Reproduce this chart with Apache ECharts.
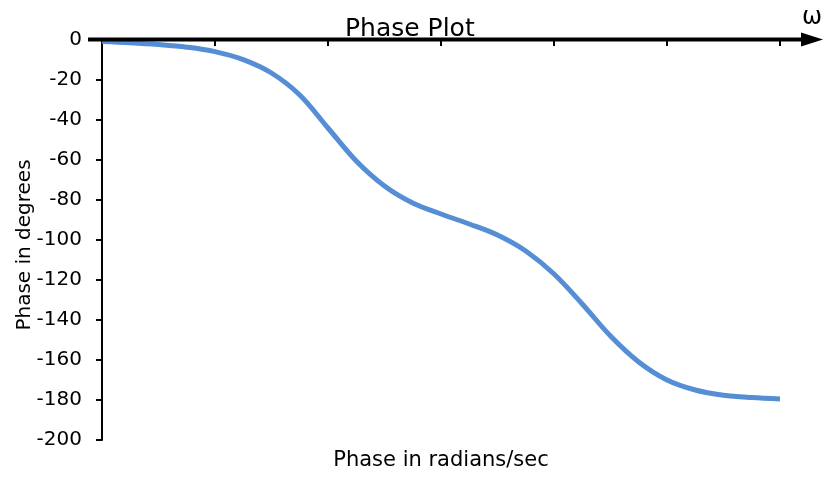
<!DOCTYPE html>
<html>
<head>
<meta charset="utf-8">
<script src="https://cdn.jsdelivr.net/npm/echarts@6/dist/echarts.min.js"></script>
<style>
  html, body { margin: 0; padding: 0; background: #fff; }
  #chart { width: 829px; height: 479px; }
</style>
</head>
<body>
<div id="chart"></div>
<script>
// frequency position along the axis (one unit per tick)
const omega = [0, 0.25, 0.5, 0.75, 1, 1.25, 1.5, 1.75, 2, 2.25, 2.5, 2.75, 3,
               3.25, 3.5, 3.75, 4, 4.25, 4.5, 4.75, 5, 5.25, 5.5, 5.75, 6];
// phase in degrees
const phase = [-0.8, -1.4, -2.3, -3.6, -5.8, -9.8, -16.5, -27.5, -44, -60.5, -73, -81.5, -87,
               -92, -97.5, -105.5, -117, -132, -148, -161, -170, -175, -177.6, -178.8, -179.5];
// axis ranges
const xMin = 0, xMax = 6, xStep = 1;
const yMin = -200, yMax = 0, yStep = 20;

const font = 'DejaVu Sans';
const chart = echarts.init(document.getElementById('chart'));

chart.setOption({
  animation: false,
  title: {
    text: 'Phase Plot',
    left: 340,
    top: 12,
    textStyle: { fontFamily: font, fontSize: 25, fontWeight: 'normal', color: '#000' }
  },
  grid: { left: 102, right: 49, top: 40, bottom: 39 },
  xAxis: {
    type: 'value',
    position: 'top',
    min: xMin, max: xMax, interval: xStep,
    axisLine: { show: false },
    axisTick: { show: true, inside: true, length: 6, lineStyle: { color: '#000', width: 2 } },
    axisLabel: { show: false },
    splitLine: { show: false }
  },
  yAxis: {
    type: 'value',
    min: yMin, max: yMax, interval: yStep,
    axisLine: { show: true, onZero: false, lineStyle: { color: '#000', width: 2 } },
    axisTick: { show: true, length: 6, lineStyle: { color: '#000', width: 2 } },
    axisLabel: { fontFamily: font, fontSize: 20, color: '#000', margin: 20 },
    splitLine: { show: false }
  },
  series: [{
    type: 'line',
    data: omega.map((w, i) => [w, phase[i]]),
    smooth: 0.35,
    symbol: 'none',
    lineStyle: { color: '#558ed5', width: 5 }
  }]
});

// omega axis drawn as a long arrow through y = 0
const a = chart.convertToPixel({ gridIndex: 0 }, [xMin, 0]);
const b = chart.convertToPixel({ gridIndex: 0 }, [xMax, 0]);
const c = chart.convertToPixel({ gridIndex: 0 }, [xMin, (yMin + yMax) / 2]);
const y0 = a[1] - 0.5;
chart.setOption({
  graphic: [
    { type: 'line', z: 10, shape: { x1: a[0] - 14, y1: y0, x2: b[0] + 24, y2: y0 },
      style: { stroke: '#000', lineWidth: 4 } },
    { type: 'polygon', z: 10,
      shape: { points: [[b[0] + 21, y0 - 7], [b[0] + 43, y0], [b[0] + 21, y0 + 7]] },
      style: { fill: '#000' } },
    { type: 'text', x: b[0] + 32, y: 18, z: 10,
      style: { text: 'ω', fontFamily: font, fontSize: 24, fill: '#000',
               textAlign: 'center', textVerticalAlign: 'middle' } },
    { type: 'text', x: (a[0] + b[0]) / 2, y: 461, z: 10,
      style: { text: 'Phase in radians/sec', fontFamily: font, fontSize: 21, fill: '#000',
               textAlign: 'center', textVerticalAlign: 'middle' } },
    { type: 'text', x: 25, y: c[1] + 5, rotation: Math.PI / 2, z: 10,
      style: { text: 'Phase in degrees', fontFamily: font, fontSize: 20, fill: '#000',
               textAlign: 'center', textVerticalAlign: 'middle' } }
  ]
});
</script>
</body>
</html>
